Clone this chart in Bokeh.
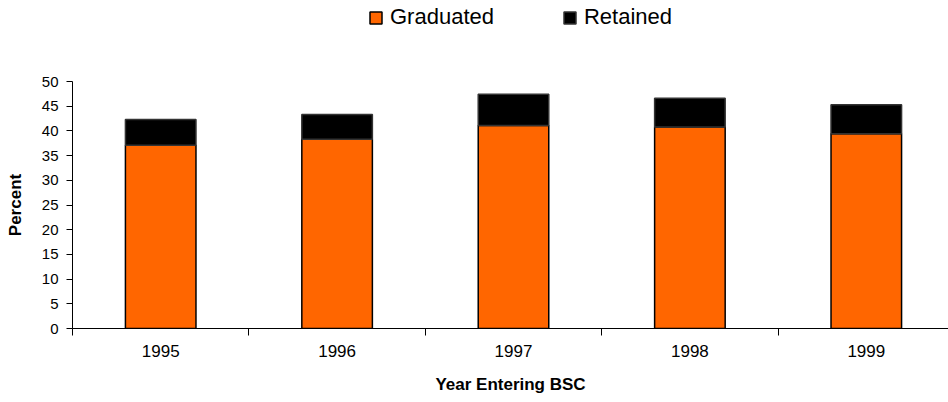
from bokeh.plotting import figure
from bokeh.layouts import column
from bokeh.models import Range1d, FixedTicker, Legend, LegendItem, ColumnDataSource
from bokeh.embed import file_html
from bokeh.resources import INLINE

years = ["1995", "1996", "1997", "1998", "1999"]
graduated = [37.1, 38.3, 41.1, 40.8, 39.4]
retained = [5.2, 5.0, 6.3, 5.8, 5.9]
y_ticks = [0, 5, 10, 15, 20, 25, 30, 35, 40, 45, 50]
series = ["Graduated", "Retained"]
fills = ["#FF6600", "#000000"]
lines = ["#000000", "#333333"]

FONT = "Liberation Sans"

x = [i + 0.5 for i in range(len(years))]
src = ColumnDataSource(dict(x=x, graduated=graduated, retained=retained))

# ---- legend strip (top): hidden proxy renderers only feed the legend ----
lf = figure(width=948, height=30, output_backend="svg", toolbar_location=None,
            x_range=Range1d(0, 4.966), y_range=Range1d(0, 50),
            x_axis_type=None, y_axis_type=None, min_border=0)
lf.outline_line_color = None
lf.xgrid.visible = False
lf.ygrid.visible = False
lr = lf.vbar_stack(["graduated", "retained"], x="x", width=0.4, source=src,
                   fill_color=fills, line_color=lines, line_width=1.5)
for r in lr:
    r.visible = False
legend = Legend(items=[LegendItem(label=s, renderers=[r]) for s, r in zip(series, lr)],
                orientation="horizontal", location=(296, 0),
                glyph_width=15, glyph_height=15, label_standoff=7, spacing=68,
                padding=0, margin=0, border_line_color=None,
                background_fill_alpha=0, click_policy="none",
                label_text_font=FONT, label_text_font_size="22px",
                label_text_color="black")
lf.add_layout(legend)

# ---- main chart ----
p = figure(width=948, height=372, output_backend="svg", toolbar_location=None,
           x_range=Range1d(0, 4.966), y_range=Range1d(0, 50),
           min_border_left=72, min_border_right=0, min_border_top=51,
           min_border_bottom=74)

rs = p.vbar_stack(["graduated", "retained"], x="x", width=0.4, source=src,
                  fill_color=fills, line_color=lines, line_width=1.5)

p.xgrid.visible = False
p.ygrid.visible = False
p.outline_line_color = None

xa = p.xaxis[0]
xa.ticker = FixedTicker(ticks=x, minor_ticks=list(range(len(years) + 1)))
xa.major_label_overrides = {xi: y for xi, y in zip(x, years)}
xa.major_tick_line_color = None
xa.minor_tick_line_color = "black"
xa.minor_tick_out = 7
xa.minor_tick_in = 0
xa.axis_line_color = "black"
xa.major_label_text_font = FONT
xa.major_label_text_font_size = "17px"
xa.major_label_text_color = "black"
xa.major_label_standoff = 9
xa.axis_label = "Year Entering BSC"
xa.axis_label_text_font = FONT
xa.axis_label_text_font_style = "bold"
xa.axis_label_text_font_size = "17px"
xa.axis_label_text_color = "black"
xa.axis_label_standoff = 15

ya = p.yaxis[0]
ya.ticker = FixedTicker(ticks=y_ticks)
ya.minor_tick_line_color = None
ya.major_tick_out = 6
ya.major_tick_in = 0
ya.major_tick_line_color = "black"
ya.axis_line_color = "black"
ya.major_label_text_font = FONT
ya.major_label_text_font_size = "15px"
ya.major_label_text_color = "black"
ya.major_label_standoff = 8
ya.axis_label = "Percent"
ya.axis_label_text_font = FONT
ya.axis_label_text_font_style = "bold"
ya.axis_label_text_font_size = "17px"
ya.axis_label_text_color = "black"
ya.axis_label_standoff = 14

layout = column(lf, p, spacing=0)
open("out.html", "w").write(file_html(layout, INLINE))
